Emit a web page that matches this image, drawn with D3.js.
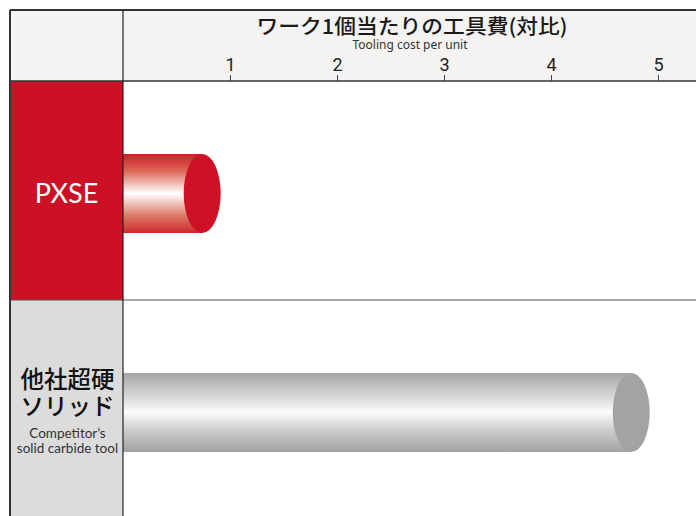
<!DOCTYPE html>
<html>
<head>
<meta charset="utf-8">
<script src="https://cdn.jsdelivr.net/npm/d3@7"></script>
<style>
  body { margin: 0; background: #fff; }
  svg { display: block; }
</style>
</head>
<body>
<div id="chart"></div>
<script>
// data
const tools = ["PXSE", "他社超硬ソリッド"];
const costs = [0.74, 4.75];
const ticks = [1, 2, 3, 4, 5];
const titleJa = "ワーク1個当たりの工具費(対比)";
const titleEn = "Tooling cost per unit";

const W = 696, H = 516;
const mLeft = 10, mTop = 10, labelW = 113, headH = 71, rowH = 219;

const svg = d3.select("#chart").append("svg")
  .attr("width", W).attr("height", H);

const defs = svg.append("defs");
function cylGrad(id, stops) {
  const g = defs.append("linearGradient").attr("id", id)
    .attr("x1", 0).attr("y1", 0).attr("x2", 0).attr("y2", 1);
  stops.forEach(s => g.append("stop").attr("offset", s[0]).attr("stop-color", s[1]));
}
cylGrad("redGrad", [[0, "#cc1f2a"], [0.22, "#dc6a58"], [0.5, "#ffffff"], [0.78, "#de7a66"], [1, "#cd2a2b"]]);
cylGrad("grayGrad", [[0, "#a6a6a6"], [0.25, "#cfcfcf"], [0.5, "#fbfbfb"], [0.75, "#c8c8c8"], [1, "#a2a2a2"]]);

const x = d3.scaleLinear().domain([0, 5]).range([mLeft + labelW, mLeft + labelW + 535]);
const y = d3.scaleBand().domain(tools).range([mTop + headH, mTop + headH + rowH * 2]);

// header
svg.append("rect").attr("x", mLeft).attr("y", mTop).attr("width", W - mLeft + 2).attr("height", headH)
  .attr("fill", "#f4f3f2");

svg.append("text").attr("x", 412).attr("y", 34)
  .attr("text-anchor", "middle")
  .attr("textLength", 311).attr("lengthAdjust", "spacingAndGlyphs")
  .style("font-family", "'Noto Sans CJK JP'").style("font-weight", 500).style("font-size", "20.5px")
  .attr("fill", "#1a1a1a").text(titleJa);
svg.append("text").attr("x", 410).attr("y", 49)
  .attr("text-anchor", "middle")
  .attr("textLength", 115).attr("lengthAdjust", "spacingAndGlyphs")
  .style("font-family", "'Noto Sans'").style("font-size", "12.5px")
  .attr("fill", "#333").text(titleEn);

const axis = d3.axisTop(x).tickValues(ticks).tickSize(6).tickFormat(d3.format("d"));
const ax = svg.append("g").attr("transform", `translate(0,${mTop + headH})`).call(axis);
ax.select(".domain").remove();
ax.selectAll(".tick line").attr("stroke", "#444");
ax.selectAll(".tick text")
  .style("font-family", "Roboto").style("font-size", "18px")
  .attr("fill", "#222").attr("dy", "-1px");

// left label cells
const cellFill = ["#cc1126", "#dcdcdc"];
svg.selectAll("rect.cell").data(tools).enter().append("rect")
  .attr("class", "cell")
  .attr("x", mLeft).attr("y", d => y(d))
  .attr("width", labelW).attr("height", y.bandwidth())
  .attr("fill", (d, i) => cellFill[i]);

// labels
const cy0 = y(tools[0]) + y.bandwidth() / 2;
svg.append("text").attr("x", mLeft + labelW / 2).attr("y", cy0 + 12)
  .attr("text-anchor", "middle")
  .style("font-family", "Lato").style("font-size", "27px")
  .attr("fill", "#fff").text(tools[0]);

const cy1 = y(tools[1]) + y.bandwidth() / 2;
const lab = svg.append("g").attr("text-anchor", "middle").attr("fill", "#111");
lab.append("text").attr("x", mLeft + labelW / 2 + 1).attr("y", cy1 - 22)
  .style("font-family", "'Noto Sans CJK JP'").style("font-weight", 500).style("font-size", "23.5px")
  .text("他社超硬");
lab.append("text").attr("x", mLeft + labelW / 2 + 1).attr("y", cy1 + 5)
  .style("font-family", "'Noto Sans CJK JP'").style("font-weight", 500).style("font-size", "23.5px")
  .text("ソリッド");
lab.append("text").attr("x", mLeft + labelW / 2 + 1).attr("y", cy1 + 28)
  .style("font-family", "Lato").style("font-size", "13.5px").attr("fill", "#333")
  .text("Competitor’s");
lab.append("text").attr("x", mLeft + labelW / 2 + 1).attr("y", cy1 + 43)
  .style("font-family", "Lato").style("font-size", "13.5px").attr("fill", "#333")
  .text("solid carbide tool");

// cylinders
const barH = 79, rx = 18.5, barShift = 3;
const grads = ["url(#redGrad)", "url(#grayGrad)"];
const caps = ["#cf1126", "#a2a4a3"];
const bars = svg.selectAll("g.bar").data(tools).enter().append("g").attr("class", "bar");
bars.append("rect")
  .attr("x", x(0)).attr("y", d => y(d) + y.bandwidth() / 2 + barShift - barH / 2)
  .attr("width", (d, i) => x(costs[i]) - x(0)).attr("height", barH)
  .attr("fill", (d, i) => grads[i]);
bars.append("ellipse")
  .attr("cx", (d, i) => x(costs[i])).attr("cy", d => y(d) + y.bandwidth() / 2 + barShift)
  .attr("rx", rx).attr("ry", barH / 2)
  .attr("fill", (d, i) => caps[i]);

// grid lines / borders
const lineC = "#333";
svg.append("line").attr("x1", mLeft).attr("x2", W).attr("y1", mTop).attr("y2", mTop)
  .attr("stroke", lineC).attr("stroke-width", 2);
svg.append("line").attr("x1", mLeft).attr("x2", W).attr("y1", mTop + headH).attr("y2", mTop + headH)
  .attr("stroke", lineC).attr("stroke-width", 1.5);
svg.append("line").attr("x1", mLeft).attr("x2", W).attr("y1", y(tools[1])).attr("y2", y(tools[1]))
  .attr("stroke", "#555").attr("stroke-width", 1);
svg.append("line").attr("x1", mLeft).attr("x2", mLeft).attr("y1", mTop).attr("y2", H)
  .attr("stroke", lineC).attr("stroke-width", 2);
svg.append("line").attr("x1", mLeft + labelW).attr("x2", mLeft + labelW).attr("y1", mTop).attr("y2", H)
  .attr("stroke", "#222").attr("stroke-width", 1.2);
</script>
</body>
</html>
